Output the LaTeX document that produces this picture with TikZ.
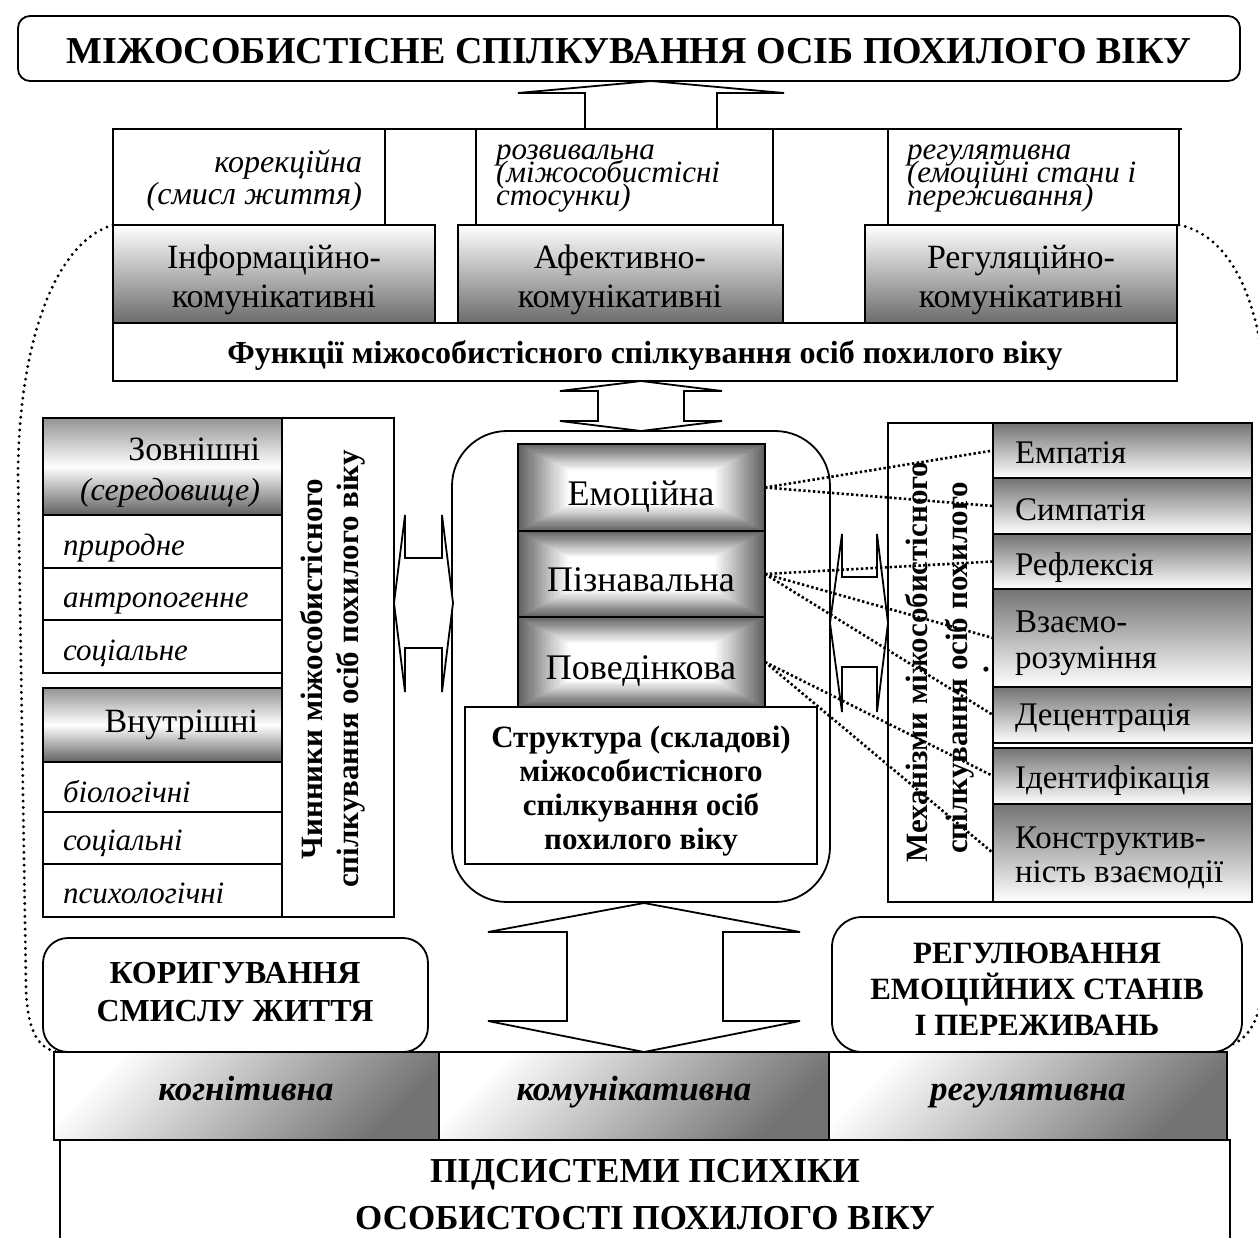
\documentclass[tikz,border=0pt]{standalone}
\usepackage{fontspec}
\setmainfont{Liberation Serif}
\usetikzlibrary{backgrounds}
\newcommand\fsz[1]{\fontsize{#1}{#1}\selectfont}
\newcommand\rnode[6]{\node[#6,anchor=north west,minimum width={(#4-#2)*1pt},minimum height={(#5-#3)*1pt}] (#1) at (#2,#3) {};}
\newcommand\rgrad[4]{%
  \foreach \i in {0,...,24}{%
    \pgfmathsetmacro\gcA{62*(1-\i/24)}%
    \pgfmathsetmacro\gxA{2.08*\i}%
    \pgfmathsetmacro\gyA{1.08*\i}%
    \fill[black!\gcA] ({#1+\gxA},{#2+\gyA}) rectangle ({#3-\gxA},{#4-\gyA});
  }}
\begin{document}
\begin{tikzpicture}[x=1pt,y=-1pt,
  every node/.style={inner sep=0pt,outer sep=0pt},
  ol/.style={draw=black,line width=1.8pt},
  wbox/.style={ol,fill=white},
  rbox/.style={ol,fill=white,rounded corners=#1},
  fgrad/.style={ol,top color=white,bottom color=black!58},
  lgrad/.style={ol,top color=black!42,bottom color=black!62,middle color=white},
  mgrad/.style={ol,top color=black!55,bottom color=white},
  bgrad/.style={ol,top color=white,bottom color=black!55,shading angle=45},
  barrow/.style={draw=black,line width=1.8pt,fill=white},
  bigdot/.style={line width=3.2pt,dash pattern=on 0pt off 6.4pt,line cap=round},
  conn/.style={line width=2.6pt,dash pattern=on 2.4pt off 2.4pt},
  itx/.style={font=\fsz{32}\itshape},
  stx/.style={font=\fsz{31}\itshape,anchor=base west},
  rtx/.style={font=\fsz{34}},
  btx/.style={font=\fsz{31}\bfseries},
  mtx/.style={font=\fsz{33},anchor=base west},
  ctx/.style={font=\fsz{36},anchor=base},
  lit/.style={font=\fsz{31}\itshape,anchor=base west},
  rot/.style={font=\fsz{31}\bfseries,rotate=90,anchor=base}
]
\useasboundingbox (0,0) rectangle (1258,1237);

% ---------- title ----------
\rnode{title}{18}{16}{1240}{81}{rbox=12pt}
\node[font=\fsz{38}\bfseries,anchor=base] (titletx) at (629,63) {МІЖОСОБИСТІСНЕ СПІЛКУВАННЯ ОСІБ ПОХИЛОГО ВІКУ};
\draw[barrow] (585,129) -- (585,93) -- (518,93) -- (651,81) -- (784,93) -- (717,93) -- (717,129);

% ---------- functions ----------
\draw[ol] (113,129) -- (1182,129);
\rnode{kor}{113}{129}{385}{225}{wbox}
\rnode{rozv}{476}{129}{773}{225}{wbox}
\rnode{regt}{888}{129}{1179}{225}{wbox}
\rnode{inf}{113}{225}{435}{323}{fgrad}
\rnode{afe}{458}{225}{783}{323}{fgrad}
\rnode{reg}{865}{225}{1177}{323}{fgrad}
\rnode{func}{113}{323}{1177}{381}{wbox}

\node[itx,anchor=base east] (korA) at (362,172) {корекційна};
\node[itx,anchor=base east] (korB) at (362,204) {(смисл життя)};
\node[stx] (rozA) at (496,159) {розвивальна};
\node[stx] (rozB) at (496,182) {(міжособистісні};
\node[stx] (rozC) at (496,205) {стосунки)};
\node[stx] (regA) at (907,159) {регулятивна};
\node[stx] (regB) at (907,182) {(емоційні стани і};
\node[stx] (regC) at (907,205) {переживання)};

\node[rtx,anchor=base] (infA) at (274,268) {Інформаційно-};
\node[rtx,anchor=base] (infB) at (274,307) {комунікативні};
\node[rtx,anchor=base] (afeA) at (620,268) {Афективно-};
\node[rtx,anchor=base] (afeB) at (620,307) {комунікативні};
\node[rtx,anchor=base] (regD) at (1021,268) {Регуляційно-};
\node[rtx,anchor=base] (regE) at (1021,307) {комунікативні};
\node[font=\fsz{32}\bfseries,anchor=base] (functx) at (645,363) {Функції міжособистісного спілкування осіб похилого віку};

% ---------- centre ----------
\draw[barrow] (598,391) -- (560,391) -- (641,381) -- (722,391) -- (684,391) -- (684,421) -- (722,421) -- (641,431) -- (560,421) -- (598,421) -- cycle;
\rnode{cbox}{452}{431}{830}{902}{rbox=55pt}
\rgrad{518}{444}{765}{531}
\rnode{emo}{518}{444}{765}{531}{ol}
\rgrad{518}{531}{765}{617}
\rnode{pizn}{518}{531}{765}{617}{ol}
\rgrad{518}{617}{765}{707}
\rnode{pov}{518}{617}{765}{707}{ol}
\rnode{struct}{465}{707}{817}{864}{wbox}
\node[ctx] (emotx) at (641,505) {Емоційна};
\node[ctx] (pizntx) at (641,591) {Пізнавальна};
\node[ctx] (povtx) at (641,679) {Поведінкова};
\node[btx,anchor=base] (stA) at (641,747) {Структура (складові)};
\node[btx,anchor=base] (stB) at (641,781) {міжособистісного};
\node[btx,anchor=base] (stC) at (641,815) {спілкування осіб};
\node[btx,anchor=base] (stD) at (641,849) {похилого віку};

% ---------- left: factors ----------
\rnode{chyn}{282}{418}{394}{917}{wbox}
\rnode{zovn}{43}{418}{282}{515}{lgrad}
\rnode{pryr}{43}{515}{282}{568}{wbox}
\rnode{antr}{43}{568}{282}{620}{wbox}
\rnode{socA}{43}{620}{282}{673}{wbox}
\rnode{vnut}{43}{688}{282}{762}{lgrad}
\rnode{biol}{43}{762}{282}{812}{wbox}
\rnode{socB}{43}{812}{282}{864}{wbox}
\rnode{psyh}{43}{864}{282}{917}{wbox}
\node[rtx,anchor=base east] (zovtx) at (260,460) {Зовнішні};
\node[itx,anchor=base east] (sertx) at (260,500) {(середовище)};
\node[lit] (pryrtx) at (63,555) {природне};
\node[lit] (antrtx) at (63,607) {антропогенне};
\node[lit] (socAtx) at (63,660) {соціальне};
\node[rtx,anchor=base east] (vnuttx) at (258,732) {Внутрішні};
\node[lit] (bioltx) at (63,802) {біологічні};
\node[lit] (socBtx) at (63,850) {соціальні};
\node[lit] (psyhtx) at (63,903) {психологічні};
\node[rot] (chynA) at (322,669) {Чинники міжособистісного};
\node[rot] (chynB) at (358,669) {спілкування осіб похилого віку};
\draw[barrow] (405,558) -- (405,515) -- (394,603) -- (405,692) -- (405,648) -- (442,648) -- (442,692) -- (453,603) -- (442,515) -- (442,558) -- cycle;

% ---------- right: mechanisms ----------
\draw[barrow] (842,577) -- (842,534) -- (830,623) -- (842,712) -- (842,667) -- (877,667) -- (877,712) -- (888,623) -- (877,534) -- (877,577) -- cycle;
\rnode{mech}{888}{423}{993}{902}{wbox}
\rnode{empat}{993}{423}{1252}{478}{mgrad}
\rnode{symp}{993}{478}{1252}{534}{mgrad}
\rnode{refl}{993}{534}{1252}{589}{mgrad}
\rnode{vzaem}{993}{589}{1252}{687}{mgrad}
\rnode{decent}{993}{687}{1252}{743}{mgrad}
\rnode{ident}{993}{748}{1252}{804}{mgrad}
\rnode{konstr}{993}{804}{1252}{902}{mgrad}
\node[mtx] (empattx) at (1015,463) {Емпатія};
\node[mtx] (symptx) at (1015,520) {Симпатія};
\node[mtx] (refltx) at (1015,575) {Рефлексія};
\node[mtx] (vzaemA) at (1015,632) {Взаємо-};
\node[mtx] (vzaemB) at (1015,668) {розуміння};
\node[mtx] (decenttx) at (1015,725) {Децентрація};
\node[mtx] (identtx) at (1015,788) {Ідентифікація};
\node[mtx] (konA) at (1015,848) {Конструктив-};
\node[mtx] (konB) at (1015,882) {ність взаємодії};
\node[rot] (mechA) at (927,662) {Механізми міжособистісного};
\node[rot] (mechB) at (967,668) {спілкування осіб похилого};
\node[rot] (mechdot) at (988,670) {.};

% ---------- bottom ----------
\draw[barrow] (567,932) -- (488,932) -- (644,903) -- (800,932) -- (723,932) -- (723,1021) -- (800,1021) -- (644,1052) -- (488,1021) -- (567,1021) -- cycle;
\rnode{korig}{43}{938}{428}{1052}{rbox=25pt}
\rnode{regul}{832}{917}{1242}{1052}{rbox=30pt}
\node[font=\fsz{32}\bfseries,anchor=base] (korA2) at (235,983) {КОРИГУВАННЯ};
\node[font=\fsz{32}\bfseries,anchor=base] (korB2) at (235,1021) {СМИСЛУ ЖИТТЯ};
\node[btx,anchor=base] (regulA) at (1037,963) {РЕГУЛЮВАННЯ};
\node[btx,anchor=base] (regulB) at (1037,999) {ЕМОЦІЙНИХ СТАНІВ};
\node[btx,anchor=base] (regulC) at (1037,1035) {І ПЕРЕЖИВАНЬ};

\rnode{kogn}{54}{1052}{439}{1140}{bgrad}
\rnode{komun}{439}{1052}{829}{1140}{bgrad}
\rnode{regb}{829}{1052}{1227}{1140}{bgrad}
\node[font=\fsz{35}\bfseries\itshape,anchor=base] (kogntx) at (246,1100) {когнітивна};
\node[font=\fsz{35}\bfseries\itshape,anchor=base] (komuntx) at (634,1100) {комунікативна};
\node[font=\fsz{35}\bfseries\itshape,anchor=base] (regbtx) at (1028,1100) {регулятивна};

\node[anchor=north west,minimum width=1170pt,minimum height=100pt] (pidsys) at (60,1140) {};
\draw[ol] (pidsys.south west) -- (pidsys.north west) -- (pidsys.north east) -- (pidsys.south east);
\node[font=\fsz{35}\bfseries,anchor=base] (pidA) at (645,1182) {ПІДСИСТЕМИ ПСИХІКИ};
\node[font=\fsz{35}\bfseries,anchor=base] (pidB) at (645,1229) {ОСОБИСТОСТІ ПОХИЛОГО ВІКУ};

% ---------- dotted connectors ----------
\draw[conn] (emo.east) -- (empat.west);
\draw[conn] (emo.east) -- (symp.west);
\draw[conn] (pizn.east) -- (refl.west);
\draw[conn] (pizn.east) -- (vzaem.west);
\draw[conn] (pizn.east) -- (decent.west);
\draw[conn] (pov.east) -- (ident.west);
\draw[conn] (pov.east) -- (konstr.west);

\begin{pgfonlayer}{background}
\draw[bigdot] (inf.north west) .. controls (60,240) and (20,330) .. (18,470) -- (26,990) .. controls (28,1035) and (40,1049) .. (58,1052);
\draw[bigdot] (regt.south east) .. controls (1230,235) and (1262,300) .. (1266,400) -- (1266,960) .. controls (1262,1030) and (1245,1047) .. (1212,1048);
\end{pgfonlayer}
\end{tikzpicture}
\end{document}
